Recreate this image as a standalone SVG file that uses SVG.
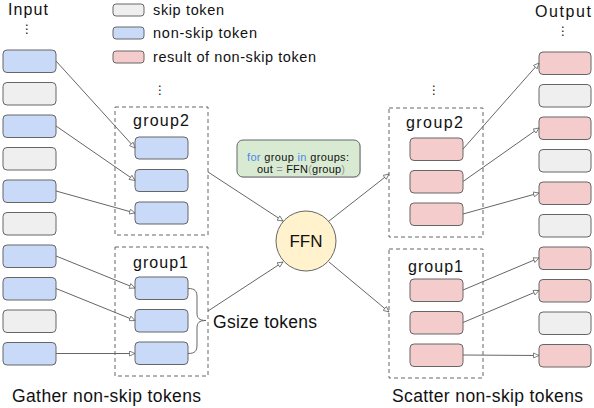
<svg xmlns="http://www.w3.org/2000/svg" width="594" height="408" viewBox="0 0 594 408">
<style>
text{font-family:"Liberation Sans",Arial,sans-serif;fill:#111}
.skip{fill:#efefef;stroke:#666;stroke-width:1}
.ns{fill:#c9daf8;stroke:#666;stroke-width:1}
.res{fill:#f4cccc;stroke:#666;stroke-width:1}
.grp{fill:none;stroke:#666;stroke-width:1;stroke-dasharray:4,3}
.conn{fill:none;stroke:#666;stroke-width:1;marker-end:url(#arr)}
.dots{font-family:"DejaVu Sans",sans-serif;font-size:12px;text-anchor:middle}
.gl{font-size:16px}
.lg{font-size:14.5px}
.kw{fill:#4a86e8}
.pn{fill:#999}
</style>
<defs>
<marker id="arr" markerWidth="7" markerHeight="6" refX="6" refY="3" orient="auto" markerUnits="userSpaceOnUse">
<path d="M0.5,0.5 L6,3 L0.5,5.5 z" fill="#fff" stroke="#666" stroke-width="0.8"/>
</marker>
</defs>

<g id="legend">
<rect class="skip" x="113" y="4" width="31" height="12" rx="3"/>
<text class="lg" x="153" y="15" textLength="71">skip token</text>
<rect class="ns" x="113" y="27" width="31" height="12" rx="3"/>
<text class="lg" x="153" y="38" textLength="104">non-skip token</text>
<rect class="res" x="113" y="51" width="31" height="12" rx="3"/>
<text class="lg" x="153" y="62" textLength="163">result of non-skip token</text>
</g>

<g id="input">
<text x="8" y="15" font-size="16" textLength="40">Input</text>
<text class="dots" x="27" y="33">⋮</text>
<rect class="ns" x="3" y="50" width="53" height="22.5" rx="4"/>
<rect class="skip" x="3" y="82.5" width="53" height="22.5" rx="4"/>
<rect class="ns" x="3" y="115" width="53" height="22.5" rx="4"/>
<rect class="skip" x="3" y="147.5" width="53" height="22.5" rx="4"/>
<rect class="ns" x="3" y="180" width="53" height="22.5" rx="4"/>
<rect class="skip" x="3" y="212.5" width="53" height="22.5" rx="4"/>
<rect class="ns" x="3" y="245" width="53" height="22.5" rx="4"/>
<rect class="ns" x="3" y="277.5" width="53" height="22.5" rx="4"/>
<rect class="skip" x="3" y="310" width="53" height="22.5" rx="4"/>
<rect class="ns" x="3" y="342.5" width="53" height="22.5" rx="4"/>
</g>

<g id="left-group2">
<text class="dots" x="160" y="94">⋮</text>
<rect class="grp" x="115" y="107" width="93" height="128"/>
<text class="gl" x="133" y="126" textLength="56">group2</text>
<rect class="ns" x="135" y="137" width="53" height="22" rx="4"/>
<rect class="ns" x="135" y="169.5" width="53" height="22" rx="4"/>
<rect class="ns" x="135" y="202" width="53" height="22" rx="4"/>
</g>

<g id="left-group1">
<rect class="grp" x="115" y="247" width="93" height="129"/>
<text class="gl" x="133" y="268" textLength="55">group1</text>
<rect class="ns" x="135" y="277" width="53" height="22.5" rx="4"/>
<rect class="ns" x="135" y="309.5" width="53" height="22.5" rx="4"/>
<rect class="ns" x="135" y="342" width="53" height="22.5" rx="4"/>
</g>

<g id="gsize">
<path d="M188,288.5 C195,288.5 197,291 197,297 L197,313 C197,318 199,320.5 206,320.5 C199,320.5 197,323 197,328 L197,345 C197,351 195,353.5 188,353.5" fill="none" stroke="#666" stroke-width="1"/>
<text x="213" y="328" font-size="17.5" textLength="104">Gsize tokens</text>
</g>

<g id="code">
<rect x="238" y="141" width="123" height="37" rx="6" fill="#999" opacity="0.35"/>
<rect x="237" y="140" width="123" height="37" rx="6" fill="#d9ead3" stroke="#666" stroke-width="1"/>
<text x="247" y="161" font-size="11" textLength="102"><tspan class="kw">for</tspan> group <tspan class="kw">in</tspan> groups:</text>
<text x="257" y="172.5" font-size="11" textLength="88">out <tspan class="pn">=</tspan> FFN<tspan class="pn">(</tspan>group<tspan class="pn">)</tspan></text>
</g>

<g id="ffn">
<circle cx="306" cy="241" r="30" fill="#fff2cc" stroke="#666" stroke-width="1"/>
<text x="306" y="247" font-size="17" text-anchor="middle">FFN</text>
</g>

<g id="right-group2">
<text class="dots" x="434" y="94">⋮</text>
<rect class="grp" x="389" y="108" width="94" height="129"/>
<text class="gl" x="406" y="128" textLength="57">group2</text>
<rect class="res" x="410" y="138" width="53" height="22.5" rx="4"/>
<rect class="res" x="410" y="170.5" width="53" height="22.5" rx="4"/>
<rect class="res" x="410" y="203" width="53" height="22.5" rx="4"/>
</g>

<g id="right-group1">
<rect class="grp" x="389" y="249" width="94" height="129"/>
<text class="gl" x="408" y="272" textLength="55">group1</text>
<rect class="res" x="410" y="279" width="53" height="22.5" rx="4"/>
<rect class="res" x="410" y="311.5" width="53" height="22.5" rx="4"/>
<rect class="res" x="410" y="344" width="53" height="22.5" rx="4"/>
</g>

<g id="output">
<text x="535" y="17" font-size="16" textLength="56">Output</text>
<text class="dots" x="563" y="35">⋮</text>
<rect class="res" x="539" y="52" width="52" height="22.5" rx="4"/>
<rect class="skip" x="539" y="84.5" width="52" height="22.5" rx="4"/>
<rect class="res" x="539" y="117" width="52" height="22.5" rx="4"/>
<rect class="skip" x="539" y="149.5" width="52" height="22.5" rx="4"/>
<rect class="res" x="539" y="182" width="52" height="22.5" rx="4"/>
<rect class="skip" x="539" y="214.5" width="52" height="22.5" rx="4"/>
<rect class="res" x="539" y="247" width="52" height="22.5" rx="4"/>
<rect class="res" x="539" y="279.5" width="52" height="22.5" rx="4"/>
<rect class="skip" x="539" y="312" width="52" height="22.5" rx="4"/>
<rect class="res" x="539" y="344.5" width="52" height="22.5" rx="4"/>
</g>

<g id="captions">
<text x="12" y="402" font-size="17.5" textLength="189">Gather non-skip tokens</text>
<text x="392" y="402" font-size="17.5" textLength="191">Scatter non-skip tokens</text>
</g>

<g id="connectors">
<line class="conn" x1="56" y1="61" x2="135" y2="148"/>
<line class="conn" x1="56" y1="126" x2="135" y2="180.5"/>
<line class="conn" x1="56" y1="191" x2="135" y2="213"/>
<line class="conn" x1="56" y1="256" x2="135" y2="288"/>
<line class="conn" x1="56" y1="288.5" x2="135" y2="320.5"/>
<line class="conn" x1="56" y1="353.5" x2="135" y2="353.5"/>
<line class="conn" x1="208" y1="172" x2="283" y2="221"/>
<line class="conn" x1="208" y1="311" x2="283" y2="262"/>
<line class="conn" x1="329" y1="221" x2="389" y2="174"/>
<line class="conn" x1="329" y1="262" x2="389" y2="312"/>
<line class="conn" x1="463" y1="149" x2="539" y2="63"/>
<line class="conn" x1="463" y1="181.5" x2="539" y2="128"/>
<line class="conn" x1="463" y1="214" x2="539" y2="193"/>
<line class="conn" x1="463" y1="290" x2="539" y2="258"/>
<line class="conn" x1="463" y1="322.5" x2="539" y2="290.5"/>
<line class="conn" x1="463" y1="355" x2="539" y2="355.5"/>
</g>
</svg>
